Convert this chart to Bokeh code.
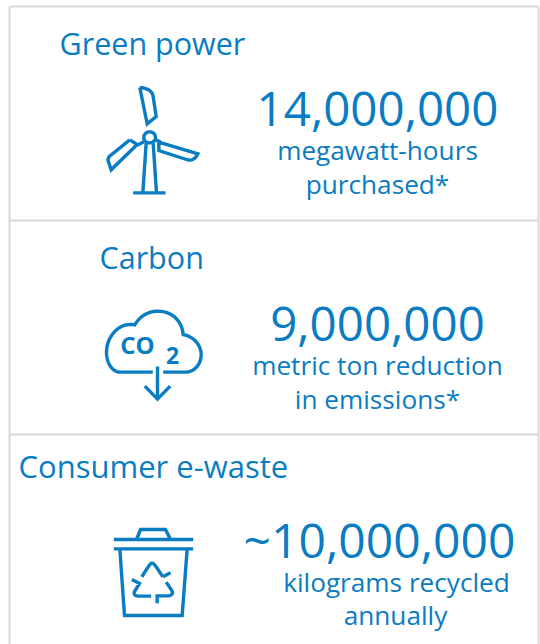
import numpy as np
from bokeh.plotting import figure
from bokeh.embed import file_html
from bokeh.resources import INLINE
from bokeh.core.properties import value

BLUE = "#0a7cc1"
GREY = "#d9d9d9"
FONT = "Open Sans"

headings = ["Green power", "Carbon", "Consumer e-waste"]
heading_x = [59, 99, 18]
heading_y = [42, 256, 465]
heading_size = ["30.5px", "30.5px", "31px"]

numbers = ["14,000,000", "9,000,000", "~10,000,000"]
number_x = [377, 377, 379]
number_y = [108, 323, 539]
number_size = ["47.5px", "47.5px", "48px"]

captions = ["megawatt-hours", "purchased*", "metric ton reduction", "in emissions*", "kilograms recycled", "annually"]
caption_x = [377, 377, 377, 377, 396, 395]
caption_y = [149, 183, 364, 398, 581, 614]

p = figure(width=540, height=644, x_range=(0, 540), y_range=(644, 0),
           output_backend="svg", toolbar_location=None, min_border=0,
           outline_line_color=None)
p.axis.visible = False
p.grid.visible = False
p.background_fill_color = "white"

# panel frame
p.multi_line([[9, 9], [9, 538], [538, 538], [9, 538], [9, 538]],
             [[6, 644], [6, 6], [6, 644], [220, 220], [434, 434]],
             line_color=GREY, line_width=2)


def path(x0, y0, start, *segs, n=14):
    """Sample an icon outline given in icon units; 3 units = 1 pixel."""
    pts = [np.array(start, float)]
    for s in segs:
        if len(s) == 2:
            pts.append(np.array(s, float))
        else:
            a = pts[-1]
            b, c, d = np.array(s[:2], float), np.array(s[2:4], float), np.array(s[4:], float)
            for t in np.linspace(0, 1, n)[1:]:
                pts.append((1-t)**3*a + 3*(1-t)**2*t*b + 3*(1-t)*t**2*c + t**3*d)
    arr = np.array(pts)
    return list(x0 + arr[:, 0] / 3), list(y0 + arr[:, 1] / 3)


def draw(x0, y0, paths, w=3.4):
    xs, ys = zip(*[path(x0, y0, *q) for q in paths])
    p.multi_line(list(xs), list(ys), line_color=BLUE, line_width=w, line_join="miter")


# wind turbine
draw(90, 70, [
    [(148, 51), (172, 53, 186, 62, 188, 78), (197, 138), (170, 160), (148, 51)],
    [(118, 208), (140, 222), (62, 298), (52, 268), (56, 258), (118, 208)],
    [(205, 215), (322, 250), (315, 266, 302, 272, 288, 267), (205, 240), (205, 215)],
    [(160, 201), (160, 190, 170, 184, 177, 184), (188, 184, 195, 192, 195, 201), (195, 210, 188, 217, 177, 217),
     (167, 217, 160, 210, 160, 201)],
    [(167, 218), (157, 367)],
    [(188, 218), (198, 367)],
    [(128, 367), (225, 367)],
    [(140, 224), (160, 214)],
    [(195, 208), (210, 214)],
])

# cloud with arrow
draw(90, 300, [
    [(187, 215), (90, 215), (65, 215, 48, 188, 48, 155), (48, 112, 80, 72, 118, 72), (125, 72, 130, 72, 133, 73),
     (148, 46, 175, 32, 202, 32), (245, 32, 275, 62, 278, 102), (310, 108, 332, 135, 332, 162),
     (332, 193, 310, 215, 285, 215), (218, 215)],
    [(201, 198), (201, 295)],
    [(163, 257), (201, 296), (239, 257)],
])
p.text([137], [344], text=["CO"], text_font=value(FONT), text_font_style="bold",
       text_font_size="24px", text_color=BLUE, text_align="center", text_baseline="alphabetic")
p.text([172], [355], text=["2"], text_font=value(FONT), text_font_style="bold",
       text_font_size="23px", text_color=BLUE, text_align="center", text_baseline="alphabetic")

# recycling bin
draw(90, 515, [
    [(70, 72), (308, 72)],
    [(70, 100), (308, 100)],
    [(138, 72), (150, 42), (225, 42), (240, 72)],
    [(88, 100), (102, 300), (275, 300), (290, 100)],
    [(154, 184), (175, 150, 180, 143, 185, 143), (190, 143, 195, 150, 217, 184)],
    [(124, 192), (147, 204), (132, 228), (128, 238, 136, 242, 145, 242), (182, 242)],
    [(240, 172), (217, 184)],
    [(200, 263), (200, 241), (232, 241), (246, 240, 248, 232, 244, 225), (227, 200)],
])


def label(x, y, t, size, align):
    p.text(x, y, text=t, text_font=value(FONT), text_font_size=size, text_color=BLUE,
           text_align=align, text_baseline="alphabetic")


for xi, yi, ti, si in zip(heading_x, heading_y, headings, heading_size):
    label([xi], [yi], [ti], si, "left")
for xi, yi, ti, si in zip(number_x, number_y, numbers, number_size):
    label([xi], [yi], [ti], si, "center")
label(caption_x, caption_y, captions, "26.2px", "center")

open("out.html", "w").write(file_html(p, INLINE))
